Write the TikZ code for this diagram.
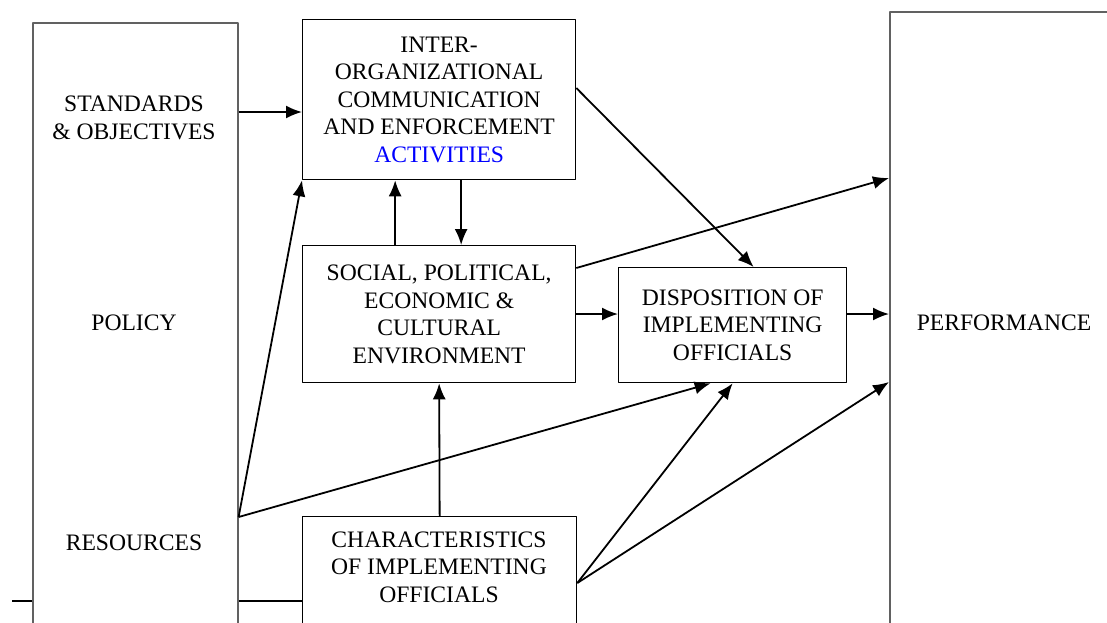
\documentclass[tikz,border=0pt]{standalone}
\usepackage{fontspec}
\setmainfont{Liberation Serif}
\usetikzlibrary{arrows.meta,calc}
\tikzset{
  box/.style={draw, fill=white, line width=1.3pt, anchor=north west, inner sep=0pt},
  bigbox/.style={box, draw=black!62, line width=2.2pt},
  txt/.style={align=center, inner sep=0pt},
  arr/.style={-{Latex[length=16pt,width=13pt]}, line width=1.8pt}
}
\begin{document}
\begin{tikzpicture}[x=1pt,y=-1pt, font=\fontsize{23.6}{27.5}\selectfont, line join=round]
\useasboundingbox (0,0) rectangle (1107,622);
\clip (0,0) rectangle (1107,622);
\draw[line width=1.8pt] (12,601)--(302,601); % footnote rule
% boxes
\node[box, draw=black!62, line width=1.6pt, minimum width=205, minimum height=700] (policy) at (32,22) {};
\node[box, minimum width=273, minimum height=160, txt] (comm) at (302,19) {INTER-\\ORGANIZATIONAL\\COMMUNICATION\\AND ENFORCEMENT\\\textcolor{blue}{ACTIVITIES}};
\node[box, minimum width=273, minimum height=137, txt] (env) at (302,245) {SOCIAL, POLITICAL,\\ECONOMIC \&\\CULTURAL\\ENVIRONMENT};
\node[box, minimum width=228, minimum height=115, txt] (disp) at (618,267) {DISPOSITION OF\\IMPLEMENTING\\OFFICIALS};
\node[box, minimum width=274, minimum height=200] (char) at (302,516) {};
\node[bigbox, minimum width=300, minimum height=700] (perf) at (889,11) {};
% texts
\node[txt] (std) at (134,118) {STANDARDS\\\& OBJECTIVES};
\node[txt] (pol) at (134,323) {POLICY};
\node[txt] (res) at (134,543) {RESOURCES};
\node[txt] (chartxt) at (439,567) {CHARACTERISTICS\\OF IMPLEMENTING\\OFFICIALS};
\node[txt] (perftxt) at (1004,323) {PERFORMANCE};
% points on the edges
\coordinate (resout) at (policy.east |- 0,517);
\coordinate (charout) at (char.east |- 0,583);
% arrows
\draw[arr] (policy.east |- 0,112) -- (comm.west |- 0,112);
\draw[arr] (resout) -- (comm.south west);
\draw[arr] (resout) -- ([xshift=-22]disp.south);
\draw[arr] ([xshift=-44]env.north) -- ([xshift=-44]comm.south);
\draw[arr] ([xshift=22]comm.south) -- ([xshift=22]env.north);
\draw[arr] (comm.east |- 0,88) -- ([xshift=21]disp.north);
\draw[arr] (env.east |- 0,268) -- (perf.west |- 0,178);
\draw[arr] (env.east |- 0,314) -- (disp.west |- 0,314);
\draw[arr] (disp.east |- 0,314) -- (perf.west |- 0,314);
\draw[arr] (char.north) -- (env.south);
\draw[arr] (charout) -- (disp.south);
\draw[arr] (charout) -- (perf.west |- 0,382);
\end{tikzpicture}
\end{document}
